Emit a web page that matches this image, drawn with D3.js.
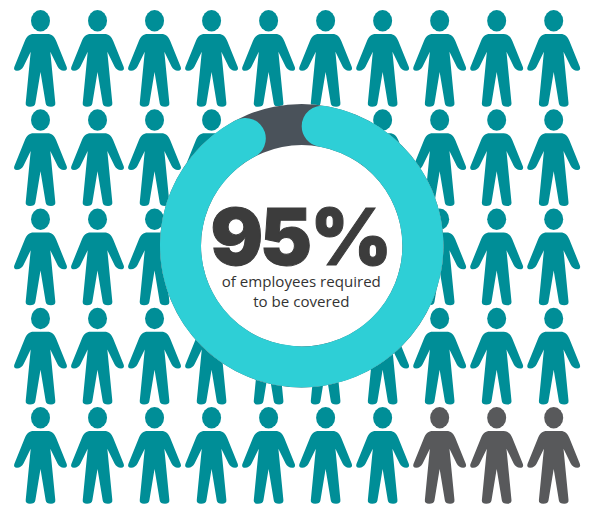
<!DOCTYPE html>
<html>
<head>
<meta charset="utf-8">
<script src="https://cdn.jsdelivr.net/npm/d3@7"></script>
<style>
html,body{margin:0;padding:0;background:#fff;}
svg{display:block;}
</style>
</head>
<body>
<svg id="chart" width="589" height="505"></svg>
<script>
// Data
const coveredPercent = 95;
const columns = [0,1,2,3,4,5,6,7,8,9];
const rows = [0,1,2,3,4];
const coveredPerRow = [10,10,10,10,7];
const headline = "95%";
const captionLines = ["of employees required","to be covered"];

// Palette
const teal = "#008e97", slate = "#58595b", ringOn = "#2ecfd6", ringOff = "#4a525a", ink = "#3c3c3c";

const svg = d3.select("#chart");

// Pictogram grid
const x = d3.scalePoint().domain(columns).range([40.5,553.7]);
const y = d3.scalePoint().domain(rows).range([10,407]);

// Figure outline as one closed, symmetric shape
const figure = [
  "M-7,24 L7,24 C11,24 14,26.5 15.7,31",
  "L26.2,57 C27,59.3 26,60.7 23.5,60.7 C20.5,60.7 18.3,59.2 17,56.5",
  "L9.8,41.7 L14.8,93 C15.1,95.5 13.5,96.8 10.5,96.8 C7.4,96.8 5.6,95.8 5.2,93.5 L0,62",
  "L-5.2,93.5 C-5.6,95.8 -7.4,96.8 -10.5,96.8 C-13.5,96.8 -15.1,95.5 -14.8,93 L-9.8,41.7",
  "L-17,56.5 C-18.3,59.2 -20.5,60.7 -23.5,60.7 C-26,60.7 -27,59.3 -26.2,57",
  "L-15.7,31 C-14,26.5 -11,24 -7,24 Z"
].join(" ");

const people = rows.flatMap(r => columns.map(c => ({r, c, covered: c < coveredPerRow[r]})));
const person = svg.append("g").selectAll("g").data(people).join("g")
  .attr("transform", d => `translate(${x(d.c)},${y(d.r)})`)
  .attr("fill", d => d.covered ? teal : slate);
person.append("ellipse").attr("cx",0).attr("cy",10.7).attr("rx",9.5).attr("ry",10.7);
person.append("path").attr("d",figure);

// Progress ring
const cx = 301.7, cy = 245.7, rOuter = 141.7, rInner = 100.7;
const angle = d3.scaleLinear().domain([0,100]).range([0,2*Math.PI]);
const ring = svg.append("g").attr("transform",`translate(${cx},${cy})`);
ring.append("circle").attr("r",rOuter).attr("fill","#fff");
ring.append("path").attr("fill",ringOff)
  .attr("d",d3.arc()({innerRadius:rInner,outerRadius:rOuter,startAngle:0,endAngle:2*Math.PI}));
ring.append("path").attr("fill",ringOn)
  .attr("d",d3.arc().cornerRadius((rOuter-rInner)/2)({innerRadius:rInner,outerRadius:rOuter,startAngle:angle(0),endAngle:angle(coveredPercent)}));

// Central labels
svg.append("text").text(headline)
  .attr("x","210.5 260 310.5").attr("y",264.5)
  .attr("font-family","Inter").attr("font-weight",900).attr("font-size",78)
  .attr("stroke",ink).attr("stroke-width",1).attr("fill",ink);
svg.append("g").selectAll("text").data(captionLines).join("text")
  .text(d=>d)
  .attr("x",301.3).attr("y",(d,i)=>286.7+i*20).attr("text-anchor","middle")
  .attr("font-family","'Open Sans'").attr("font-size",15.1).attr("fill","#333");
</script>
</body>
</html>
